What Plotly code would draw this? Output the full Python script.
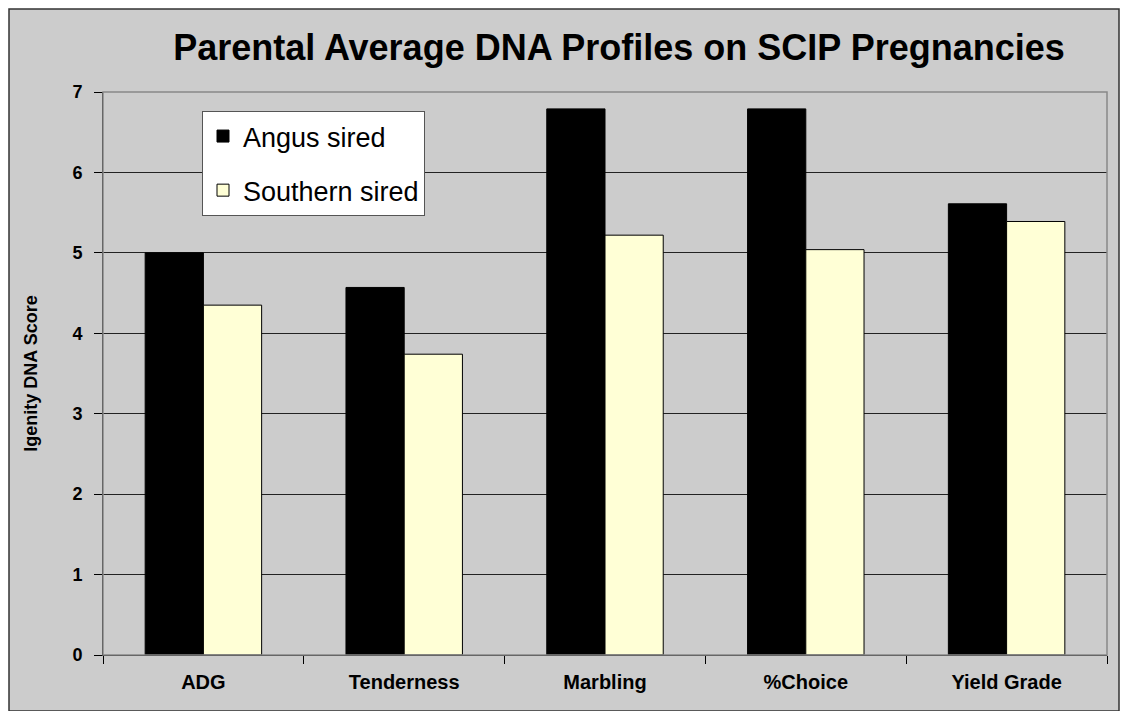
import plotly.graph_objects as go

categories = ["ADG", "Tenderness", "Marbling", "%Choice", "Yield Grade"]
angus_sired = [5.0, 4.57, 6.79, 6.79, 5.61]
southern_sired = [4.35, 3.74, 5.22, 5.04, 5.39]
series_names = ["Angus sired", "Southern sired"]
y_ticks = [0, 1, 2, 3, 4, 5, 6, 7]

# page has an 8px body margin, so the figure starts at (8, 8)
OFF = 8
W, H = 1112, 703
L, R, T, B = 95, 13, 84, 56
pw, ph = W - L - R, H - T - B

def px(x):
    return (x - OFF - L) / pw

def py(y):
    return (H - B - (y - OFF)) / ph

fig = go.Figure()
fig.add_trace(go.Bar(x=categories, y=angus_sired, name=series_names[0],
                     marker=dict(color="#000000", line=dict(color="#000000", width=1)),
                     legendgroup="a"))
fig.add_trace(go.Bar(x=categories, y=southern_sired, name=series_names[1],
                     marker=dict(color="#FFFFD6", line=dict(color="#000000", width=1)),
                     legendgroup="b"))

# outer gray chart area with border
fig.add_shape(type="rect", xref="paper", yref="paper", layer="below",
              x0=px(9), x1=px(1119), y0=py(711), y1=py(9),
              fillcolor="#CCCCCC", line=dict(color="#333333", width=1.5))
# plot area border
fig.add_shape(type="rect", xref="paper", yref="paper", layer="above",
              x0=0, x1=1, y0=0, y1=1,
              line=dict(color="#888888", width=1.5))

fig.update_layout(
    width=W, height=H,
    margin=dict(l=L, r=R, t=T, b=B),
    paper_bgcolor="white",
    plot_bgcolor="white",
    barmode="group",
    bargap=0.42,
    bargroupgap=0,
    font=dict(family="Arial, Liberation Sans, sans-serif", color="#000000"),
    title=dict(text="<b>Parental Average DNA Profiles on SCIP Pregnancies</b>",
               x=px(619), xanchor="center", xref="paper",
               y=1 - (47 - OFF) / H, yanchor="middle", yref="container",
               font=dict(size=36, color="#000000")),
    legend=dict(x=px(202), y=py(111), xanchor="left", yanchor="top",
                bgcolor="white", bordercolor="#555555", borderwidth=1,
                font=dict(size=27, color="#000000"),
                traceorder="grouped", tracegroupgap=16,
                itemwidth=30),
    xaxis=dict(type="category", tickson="boundaries", ticks="outside",
               ticklen=8, tickcolor="#000000", showline=True,
               linecolor="#000000", linewidth=1,
               tickfont=dict(size=20, weight="bold", color="#000000"),
               ticklabelstandoff=9, showgrid=False),
    yaxis=dict(range=[0, 7], tickvals=y_ticks, ticks="outside", ticklen=8,
               tickcolor="#000000", showline=True, linecolor="#000000",
               linewidth=1, showgrid=True, gridcolor="#222222", gridwidth=1,
               zeroline=False,
               tickfont=dict(size=18, weight="bold", color="#000000"),
               ticklabelstandoff=8,
               title=dict(text="Igenity DNA Score", standoff=30,
                          font=dict(size=18, weight="bold", color="#000000"))),
)

fig.write_html("out.html")
